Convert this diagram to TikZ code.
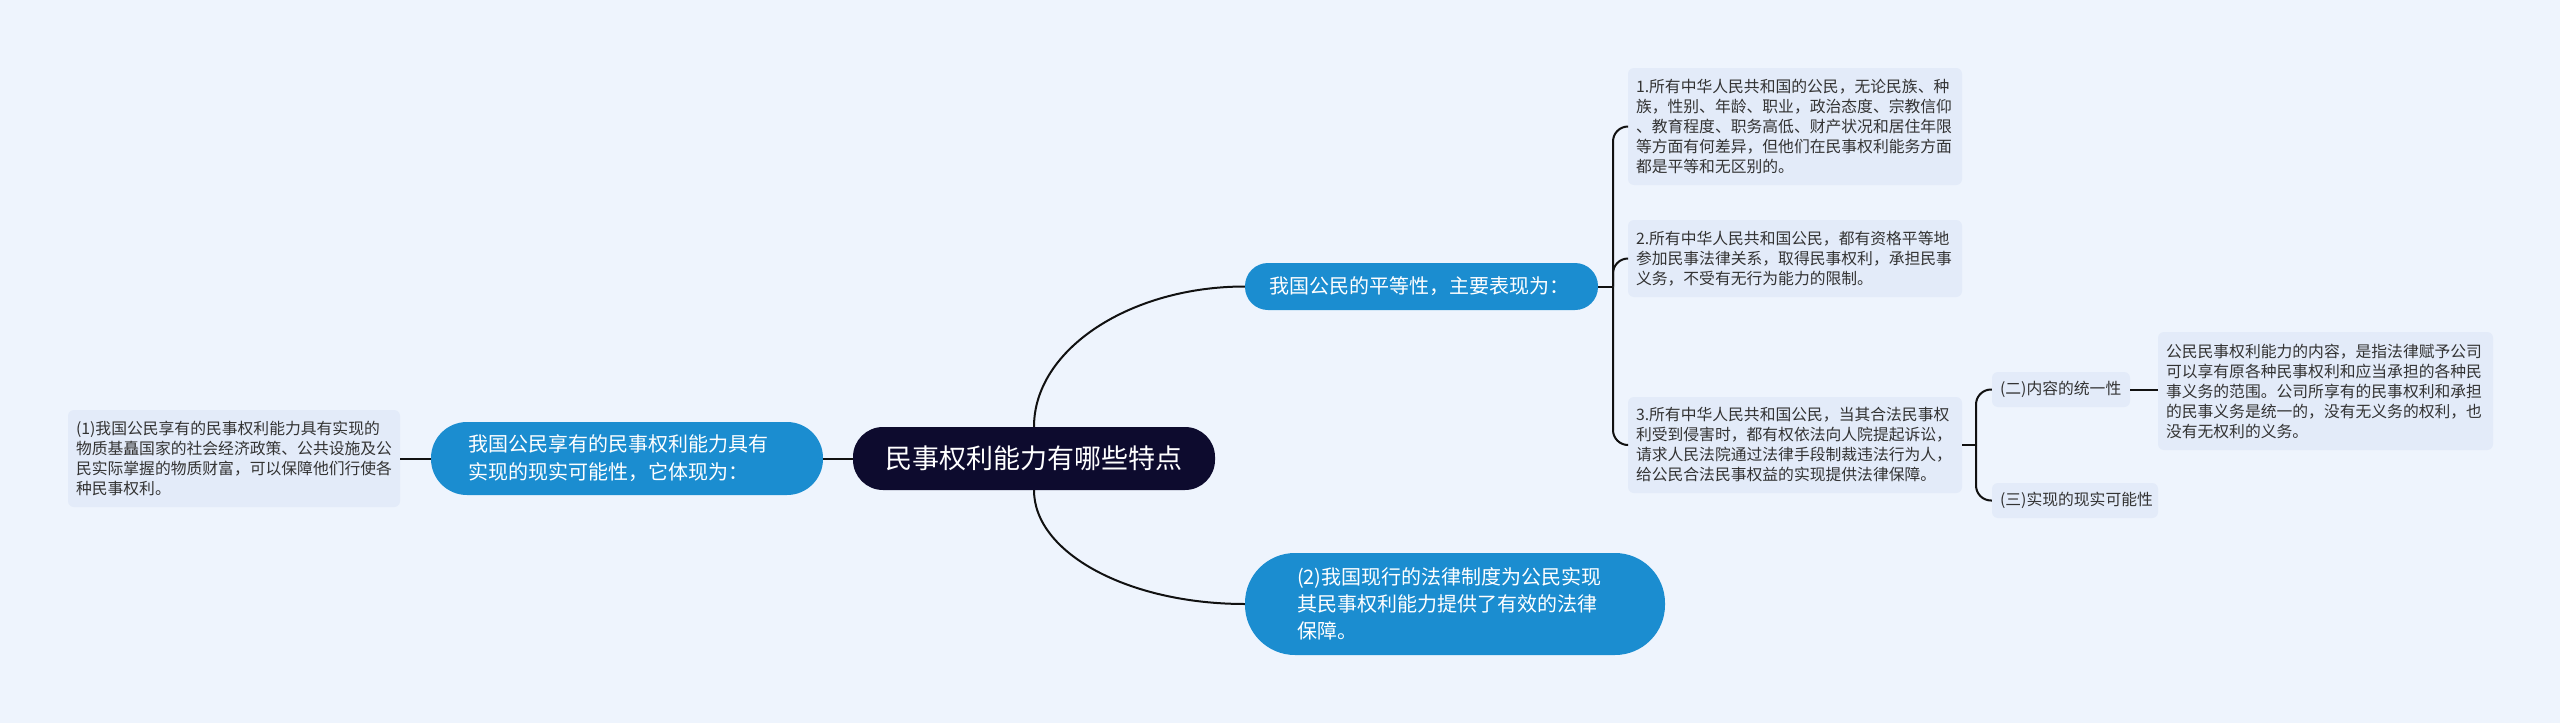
\documentclass[tikz,border=0pt]{standalone}
\usepackage{fontspec}
\setmainfont{Noto Sans CJK SC}
\definecolor{bgc}{HTML}{EEF4FD}
\definecolor{leafc}{HTML}{E3EBF9}
\definecolor{leaftext}{HTML}{333333}
\definecolor{bluec}{HTML}{1B8DD0}
\definecolor{rootc}{HTML}{0D0B2E}
\definecolor{linec}{HTML}{111111}
\begin{document}
\begin{tikzpicture}[x=1pt,y=-1pt,
  conn/.style={draw=linec, line width=2pt},
  leaf/.style={fill=leafc, rounded corners=6pt, text=leaftext,
    font=\fontsize{15.8}{20}\selectfont, align=left, inner xsep=8pt, inner ysep=0pt},
  small/.style={leaf, minimum height=35pt},
  bluebox/.style={fill=bluec, text=white, align=left, inner ysep=0pt},
  rootbox/.style={fill=rootc, text=white, font=\fontsize{27}{32}\selectfont,
    rounded corners=30pt, minimum width=362pt, minimum height=63pt, inner sep=0pt}]
\fill[bgc] (0,0) rectangle (2560,723);
\useasboundingbox (0,0) rectangle (2560,723);

% root
\node[rootbox] (root) at (1034,458.5) {民事权利能力有哪些特点};

% main branches
\node[bluebox, font=\fontsize{20}{28}\selectfont, rounded corners=36pt,
  text width=318pt, inner xsep=37pt, minimum height=73pt] (left) at (627,458.5)
  {我国公民享有的民事权利能力具有\\实现的现实可能性，它体现为：};
\node[bluebox, font=\fontsize{20}{26}\selectfont, rounded corners=23pt,
  text width=305pt, inner xsep=24pt, minimum height=47pt] (top) at (1421.5,286.5)
  {我国公民的平等性，主要表现为：};
\node[bluebox, font=\fontsize{20}{27}\selectfont, rounded corners=50pt,
  text width=316pt, inner xsep=52pt, minimum height=102pt] (bot) at (1455,604)
  {(2)我国现行的法律制度为公民实现\\其民事权利能力提供了有效的法律\\保障。};

% left leaf
\node[leaf, text width=316pt, minimum height=97pt] (lleaf) at (234,458.5)
  {(1)我国公民享有的民事权利能力具有实现的\\物质基矗国家的社会经济政策、公共设施及公\\民实际掌握的物质财富，可以保障他们行使各\\种民事权利。};

% right leaves
\node[leaf, text width=318pt, minimum height=117pt] (l1) at (1795,126.5)
  {1.所有中华人民共和国的公民，无论民族、种\\族，性别、年龄、职业，政治态度、宗教信仰\\、教育程度、职务高低、财产状况和居住年限\\等方面有何差异，但他们在民事权利能务方面\\都是平等和无区别的。};
\node[leaf, text width=318pt, minimum height=77pt] (l2) at (1795,258.5)
  {2.所有中华人民共和国公民，都有资格平等地\\参加民事法律关系，取得民事权利，承担民事\\义务，不受有无行为能力的限制。};
\node[leaf, text width=318pt, minimum height=96pt] (l3) at (1795,445)
  {3.所有中华人民共和国公民，当其合法民事权\\利受到侵害时，都有权依法向人院提起诉讼，\\请求人民法院通过法律手段制裁违法行为人，\\给公民合法民事权益的实现提供法律保障。};

\node[small, text width=122pt] (n2) at (2061,389.5) {(二)内容的统一性};
\node[small, text width=150pt] (n3) at (2075,500.5) {(三)实现的现实可能性};

\node[leaf, text width=319pt, minimum height=118pt] (rleaf) at (2325.5,391)
  {公民民事权利能力的内容，是指法律赋予公司\\可以享有原各种民事权利和应当承担的各种民\\事义务的范围。公司所享有的民事权利和承担\\的民事义务是统一的，没有无义务的权利，也\\没有无权利的义务。};

% connectors
\draw[conn] (root.west) -- (left.east);
\draw[conn] (left.west) -- (lleaf.east);
\draw[conn] (root.north) .. controls +(0,-78) and +(-114,0) .. (top.west);
\draw[conn] (root.south) .. controls +(0,63) and +(-116,0) .. (bot.west);

\coordinate (jt) at (1613,286.5);
\draw[conn] (top.east) -- (jt);
\draw[conn, rounded corners=15pt] (jt) |- (l1.west);
\draw[conn, rounded corners=15pt] (jt) |- (l2.west);
\draw[conn, rounded corners=15pt] (jt) |- (l3.west);

\coordinate (j3) at (1976,445);
\draw[conn] (l3.east) -- (j3);
\draw[conn, rounded corners=15pt] (j3) |- (n2.west);
\draw[conn, rounded corners=15pt] (j3) |- (n3.west);

\draw[conn] (n2.east) -- (n2.east -| rleaf.west);
\end{tikzpicture}
\end{document}
